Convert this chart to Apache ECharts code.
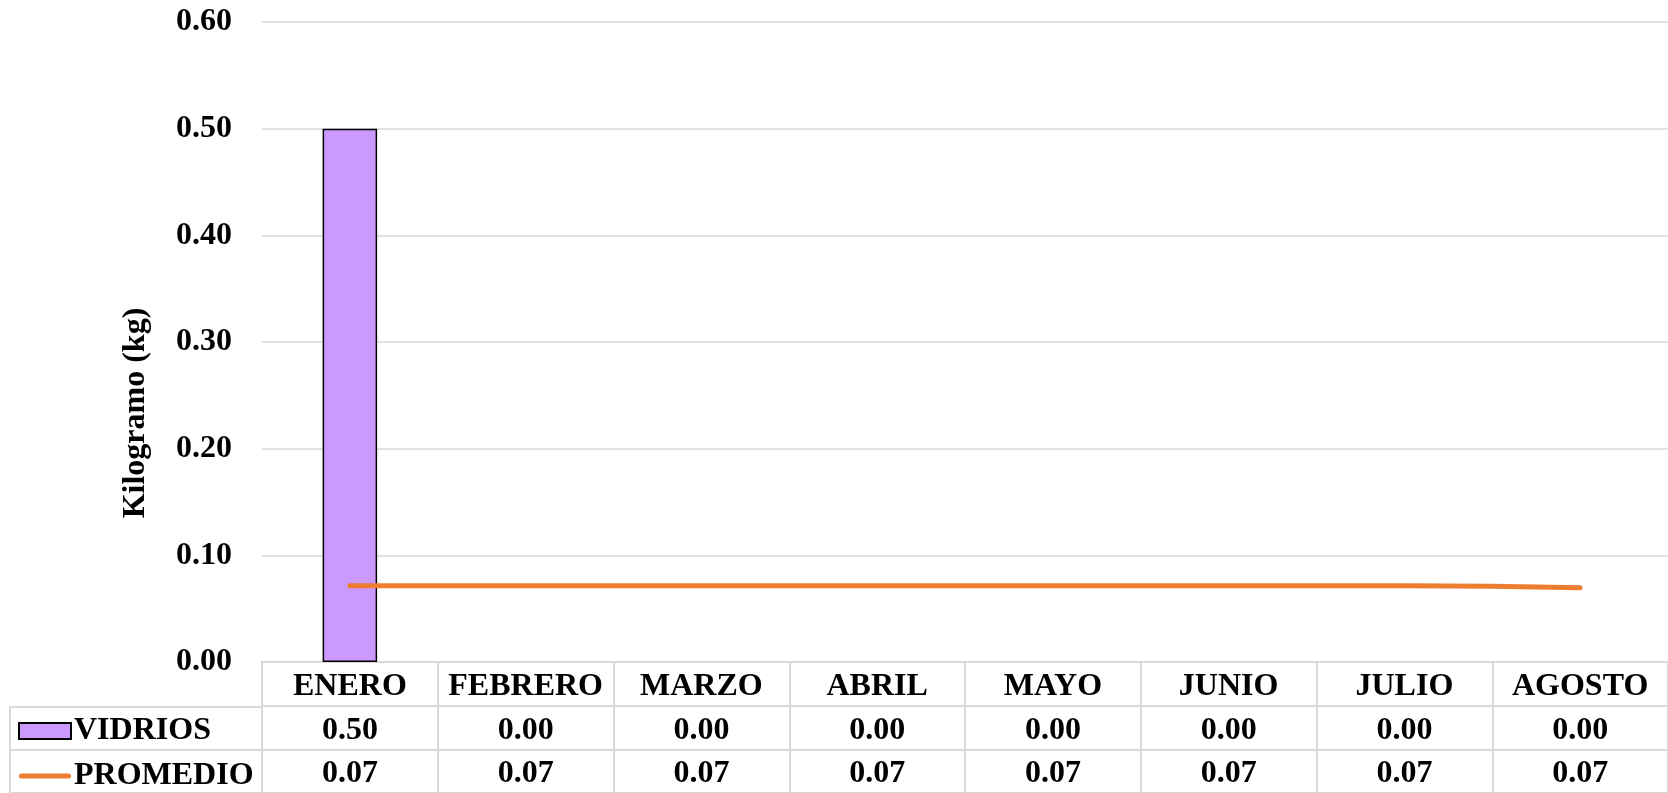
<!DOCTYPE html>
<html>
<head>
<meta charset="utf-8">
<script src="https://cdn.jsdelivr.net/npm/echarts@6/dist/echarts.min.js"></script>
<style>
  html, body { margin: 0; padding: 0; background: #fff; }
  #chart { width: 1668px; height: 793px; }
</style>
</head>
<body>
<div id="chart"></div>
<script>
// datos del grafico
const meses = ['ENERO', 'FEBRERO', 'MARZO', 'ABRIL', 'MAYO', 'JUNIO', 'JULIO', 'AGOSTO'];
const vidrios = [0.50, 0.00, 0.00, 0.00, 0.00, 0.00, 0.00, 0.00];
const promedio = [0.0714, 0.0714, 0.0714, 0.0714, 0.0714, 0.0714, 0.0714, 0.0695];
const filas = ['', 'VIDRIOS', 'PROMEDIO'];
const yMin = 0, yMax = 0.6, yPaso = 0.1;

const FONT = '"Liberation Serif", "Times New Roman", serif';
const GRIS = '#d9d9d9';

// celdas de la tabla de datos (encabezado + 2 filas)
const celdas = [];
meses.forEach((m, i) => {
  celdas.push({ value: [i, 0], label: { formatter: m } });
  celdas.push({ value: [i, 1], label: { formatter: vidrios[i].toFixed(2) } });
  celdas.push({ value: [i, 2], label: { formatter: promedio[i].toFixed(2) } });
});

// barras en cero sin borde (Excel no las dibuja)
const barras = vidrios.map(v => v === 0 ? { value: v, itemStyle: { borderWidth: 0 } } : v);

// icono de linea para la leyenda (trazo centrado de 5px)
const iconoLinea = 'path://M0,0 L0,0 M52,16 L52,16 M2.5,5.5 L49.5,5.5 A2.5,2.5 0 0 1 49.5,10.5 L2.5,10.5 A2.5,2.5 0 0 1 2.5,5.5 Z';

const chart = echarts.init(document.getElementById('chart'));

chart.setOption({
  animation: false,
  grid: [
    // area del grafico
    { left: 262, right: 0, top: 22, height: 640 },
    // tabla de datos
    { left: 262, right: 0, top: 662, height: 136, show: true, borderColor: GRIS, borderWidth: 2 },
    // columna de leyenda
    { left: 10, width: 252, top: 707, height: 91, show: true, borderColor: GRIS, borderWidth: 2 }
  ],
  xAxis: [
    {
      gridIndex: 0, type: 'category', data: meses,
      axisLine: { lineStyle: { color: GRIS, width: 2 } },
      axisTick: { show: false }, axisLabel: { show: false }
    },
    {
      gridIndex: 1, type: 'category', data: meses,
      axisLine: { show: false }, axisTick: { show: false }, axisLabel: { show: false },
      splitLine: { show: true, interval: 0, lineStyle: { color: GRIS, width: 2 } }
    },
    {
      gridIndex: 2, type: 'category', data: ['x'],
      axisLine: { show: false }, axisTick: { show: false }, axisLabel: { show: false }
    }
  ],
  yAxis: [
    {
      gridIndex: 0, type: 'value', min: yMin, max: yMax, interval: yPaso,
      axisLine: { show: false }, axisTick: { show: false },
      axisLabel: {
        margin: 30, color: '#000', fontFamily: FONT, fontWeight: 'bold', fontSize: 32,
        formatter: v => v.toFixed(2)
      },
      splitLine: { lineStyle: { color: GRIS, width: 1.5 } }
    },
    {
      gridIndex: 1, type: 'category', data: filas, inverse: true,
      axisLine: { show: false }, axisTick: { show: false }, axisLabel: { show: false },
      splitLine: { show: true, interval: 0, lineStyle: { color: GRIS, width: 2 } }
    },
    {
      gridIndex: 2, type: 'category', data: filas.slice(1), inverse: true,
      axisLine: { show: false }, axisTick: { show: false }, axisLabel: { show: false },
      splitLine: { show: true, interval: 0, lineStyle: { color: GRIS, width: 2 } }
    }
  ],
  legend: {
    orient: 'vertical', left: 18, top: 715, padding: 0,
    itemWidth: 52, itemHeight: 16, itemGap: 13,
    textStyle: { color: '#000', fontFamily: FONT, fontWeight: 'bold', fontSize: 32, lineHeight: 32, padding: [0, 0, 0, -2] },
    data: [
      { name: 'VIDRIOS', icon: 'rect' },
      { name: 'PROMEDIO', icon: iconoLinea, itemStyle: { color: '#ed7d31', borderWidth: 0 } }
    ]
  },
  graphic: [{
    type: 'text', x: 136, y: 413, rotation: Math.PI / 2,
    style: {
      text: 'Kilogramo (kg)', fill: '#000', font: 'bold 32px ' + FONT,
      align: 'center', verticalAlign: 'middle'
    }
  }],
  series: [
    {
      name: 'VIDRIOS', type: 'bar', data: barras, barWidth: '31%',
      itemStyle: { color: '#cc99ff', borderColor: '#000', borderWidth: 1.5 }
    },
    {
      name: 'PROMEDIO', type: 'line', data: promedio, smooth: true,
      symbol: 'none', lineStyle: { color: '#ed7d31', width: 5, cap: 'round' },
      itemStyle: { color: '#ed7d31' }
    },
    {
      type: 'scatter', xAxisIndex: 1, yAxisIndex: 1, data: celdas,
      symbolSize: 1, itemStyle: { color: 'rgba(0,0,0,0)' }, silent: true,
      label: {
        show: true, position: 'inside', offset: [0, 3], color: '#000', opacity: 1,
        textBorderWidth: 0, fontFamily: FONT, fontWeight: 'bold', fontSize: 32
      }
    }
  ]
});
</script>
</body>
</html>
